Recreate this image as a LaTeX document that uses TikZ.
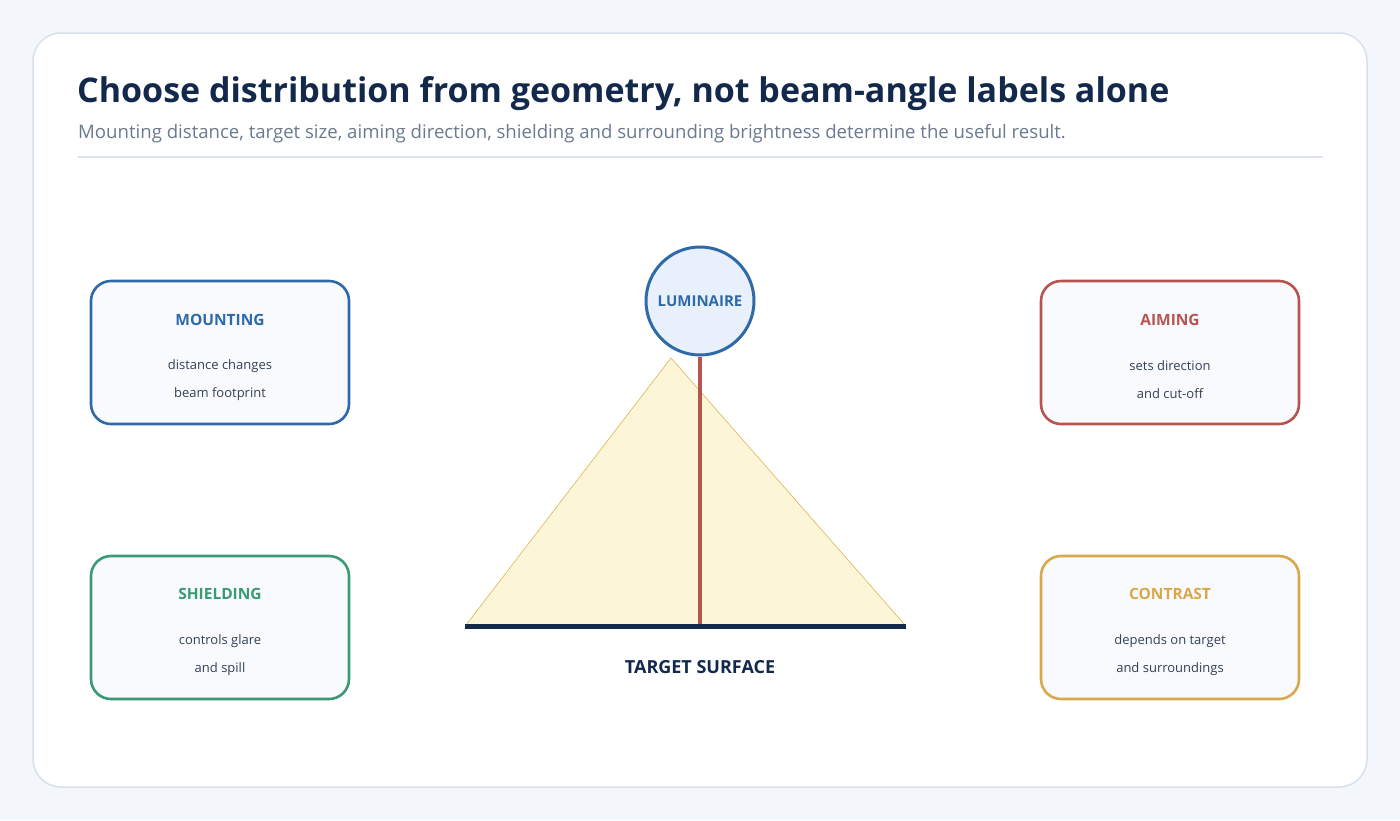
\documentclass[tikz,border=0pt]{standalone}
\usepackage{fontspec}
\setmainfont{Open Sans}
\definecolor{bg}{HTML}{F3F6FB}
\definecolor{cardline}{HTML}{D8E1EB}
\definecolor{navy}{HTML}{13294B}
\definecolor{subgray}{HTML}{6B7A8F}
\definecolor{rule}{HTML}{DDE4EC}
\definecolor{cblue}{HTML}{2F6AA8}
\definecolor{cgreen}{HTML}{3A9A72}
\definecolor{cred}{HTML}{B85450}
\definecolor{cgold}{HTML}{D9A84A}
\definecolor{boxfill}{HTML}{F8FAFD}
\definecolor{bodytext}{HTML}{334155}
\definecolor{lumfill}{HTML}{E8F1FB}
\definecolor{beamfill}{HTML}{FDF5D8}
\definecolor{beamline}{HTML}{D9B850}
\tikzset{
  card/.style={draw=#1, line width=2.6pt, fill=boxfill, rounded corners=20pt, minimum width=258pt, minimum height=143pt},
  cardtitle/.style={font=\fontsize{15.5}{18}\selectfont\bfseries, text=#1},
  cardbody/.style={font=\fontsize{13}{15}\selectfont, text=bodytext, align=center},
}
\begin{document}
\begin{tikzpicture}[x=1pt,y=-1pt]
\fill[bg] (0,0) rectangle (1400,820);
\useasboundingbox (0,0) rectangle (1400,820);
\draw[cardline, line width=1.5pt, fill=white, rounded corners=28pt] (33,33) rectangle (1367,787);
\node[anchor=base west, inner sep=0, text=navy, font=\fontsize{34}{40}\selectfont\bfseries] (title) at (77,102) {Choose distribution from geometry, not beam-angle labels alone};
\node[anchor=base west, inner sep=0, text=subgray, font=\fontsize{18.6}{22}\selectfont] (sub) at (78,138) {Mounting distance, target size, aiming direction, shielding and surrounding brightness determine the useful result.};
\draw[rule, line width=1.8pt] (78,157) -- (1323,157);
% cards
\node[card=cblue] (mount) at (220,352.5) {};
\node[cardtitle=cblue] (mountT) at (220,320) {MOUNTING};
\node[cardbody] (mountB1) at (220,366) {distance changes};
\node[cardbody] (mountB2) at (220,394) {beam footprint};
\node[card=cgreen] (shield) at (220,627.5) {};
\node[cardtitle=cgreen] (shieldT) at (220,594) {SHIELDING};
\node[cardbody] (shieldB1) at (220,641) {controls glare};
\node[cardbody] (shieldB2) at (220,669) {and spill};
\node[card=cred] (aim) at (1170,352.5) {};
\node[cardtitle=cred] (aimT) at (1170,320) {AIMING};
\node[cardbody] (aimB1) at (1170,366) {sets direction};
\node[cardbody] (aimB2) at (1170,394) {and cut-off};
\node[card=cgold] (contrast) at (1170,627.5) {};
\node[cardtitle=cgold] (contrastT) at (1170,594) {CONTRAST};
\node[cardbody] (contrastB1) at (1170,641) {depends on target};
\node[cardbody] (contrastB2) at (1170,669) {and surroundings};
% beam
\coordinate (apex) at (671,358);
\coordinate (bl) at (466,625);
\coordinate (br) at (905,625);
\draw[beamline, fill=beamfill, line width=0.6pt] (apex) -- (bl) -- (br) -- cycle;
\node[circle, draw=cblue, line width=3pt, fill=lumfill, minimum size=108pt, inner sep=0, font=\fontsize{15}{17}\selectfont\bfseries, text=cblue] (lum) at (700,301) {LUMINAIRE};
\coordinate (foot) at (700,625);
\draw[cred, line width=3.6pt] (lum.south) -- (foot);
\coordinate (sl) at (465,626);
\coordinate (sr) at (906,626);
\draw[navy, line width=5pt] (sl) -- (sr);
\node[text=navy, font=\fontsize{18}{20}\selectfont\bfseries] (target) at (700,667) {TARGET SURFACE};
\end{tikzpicture}
\end{document}
